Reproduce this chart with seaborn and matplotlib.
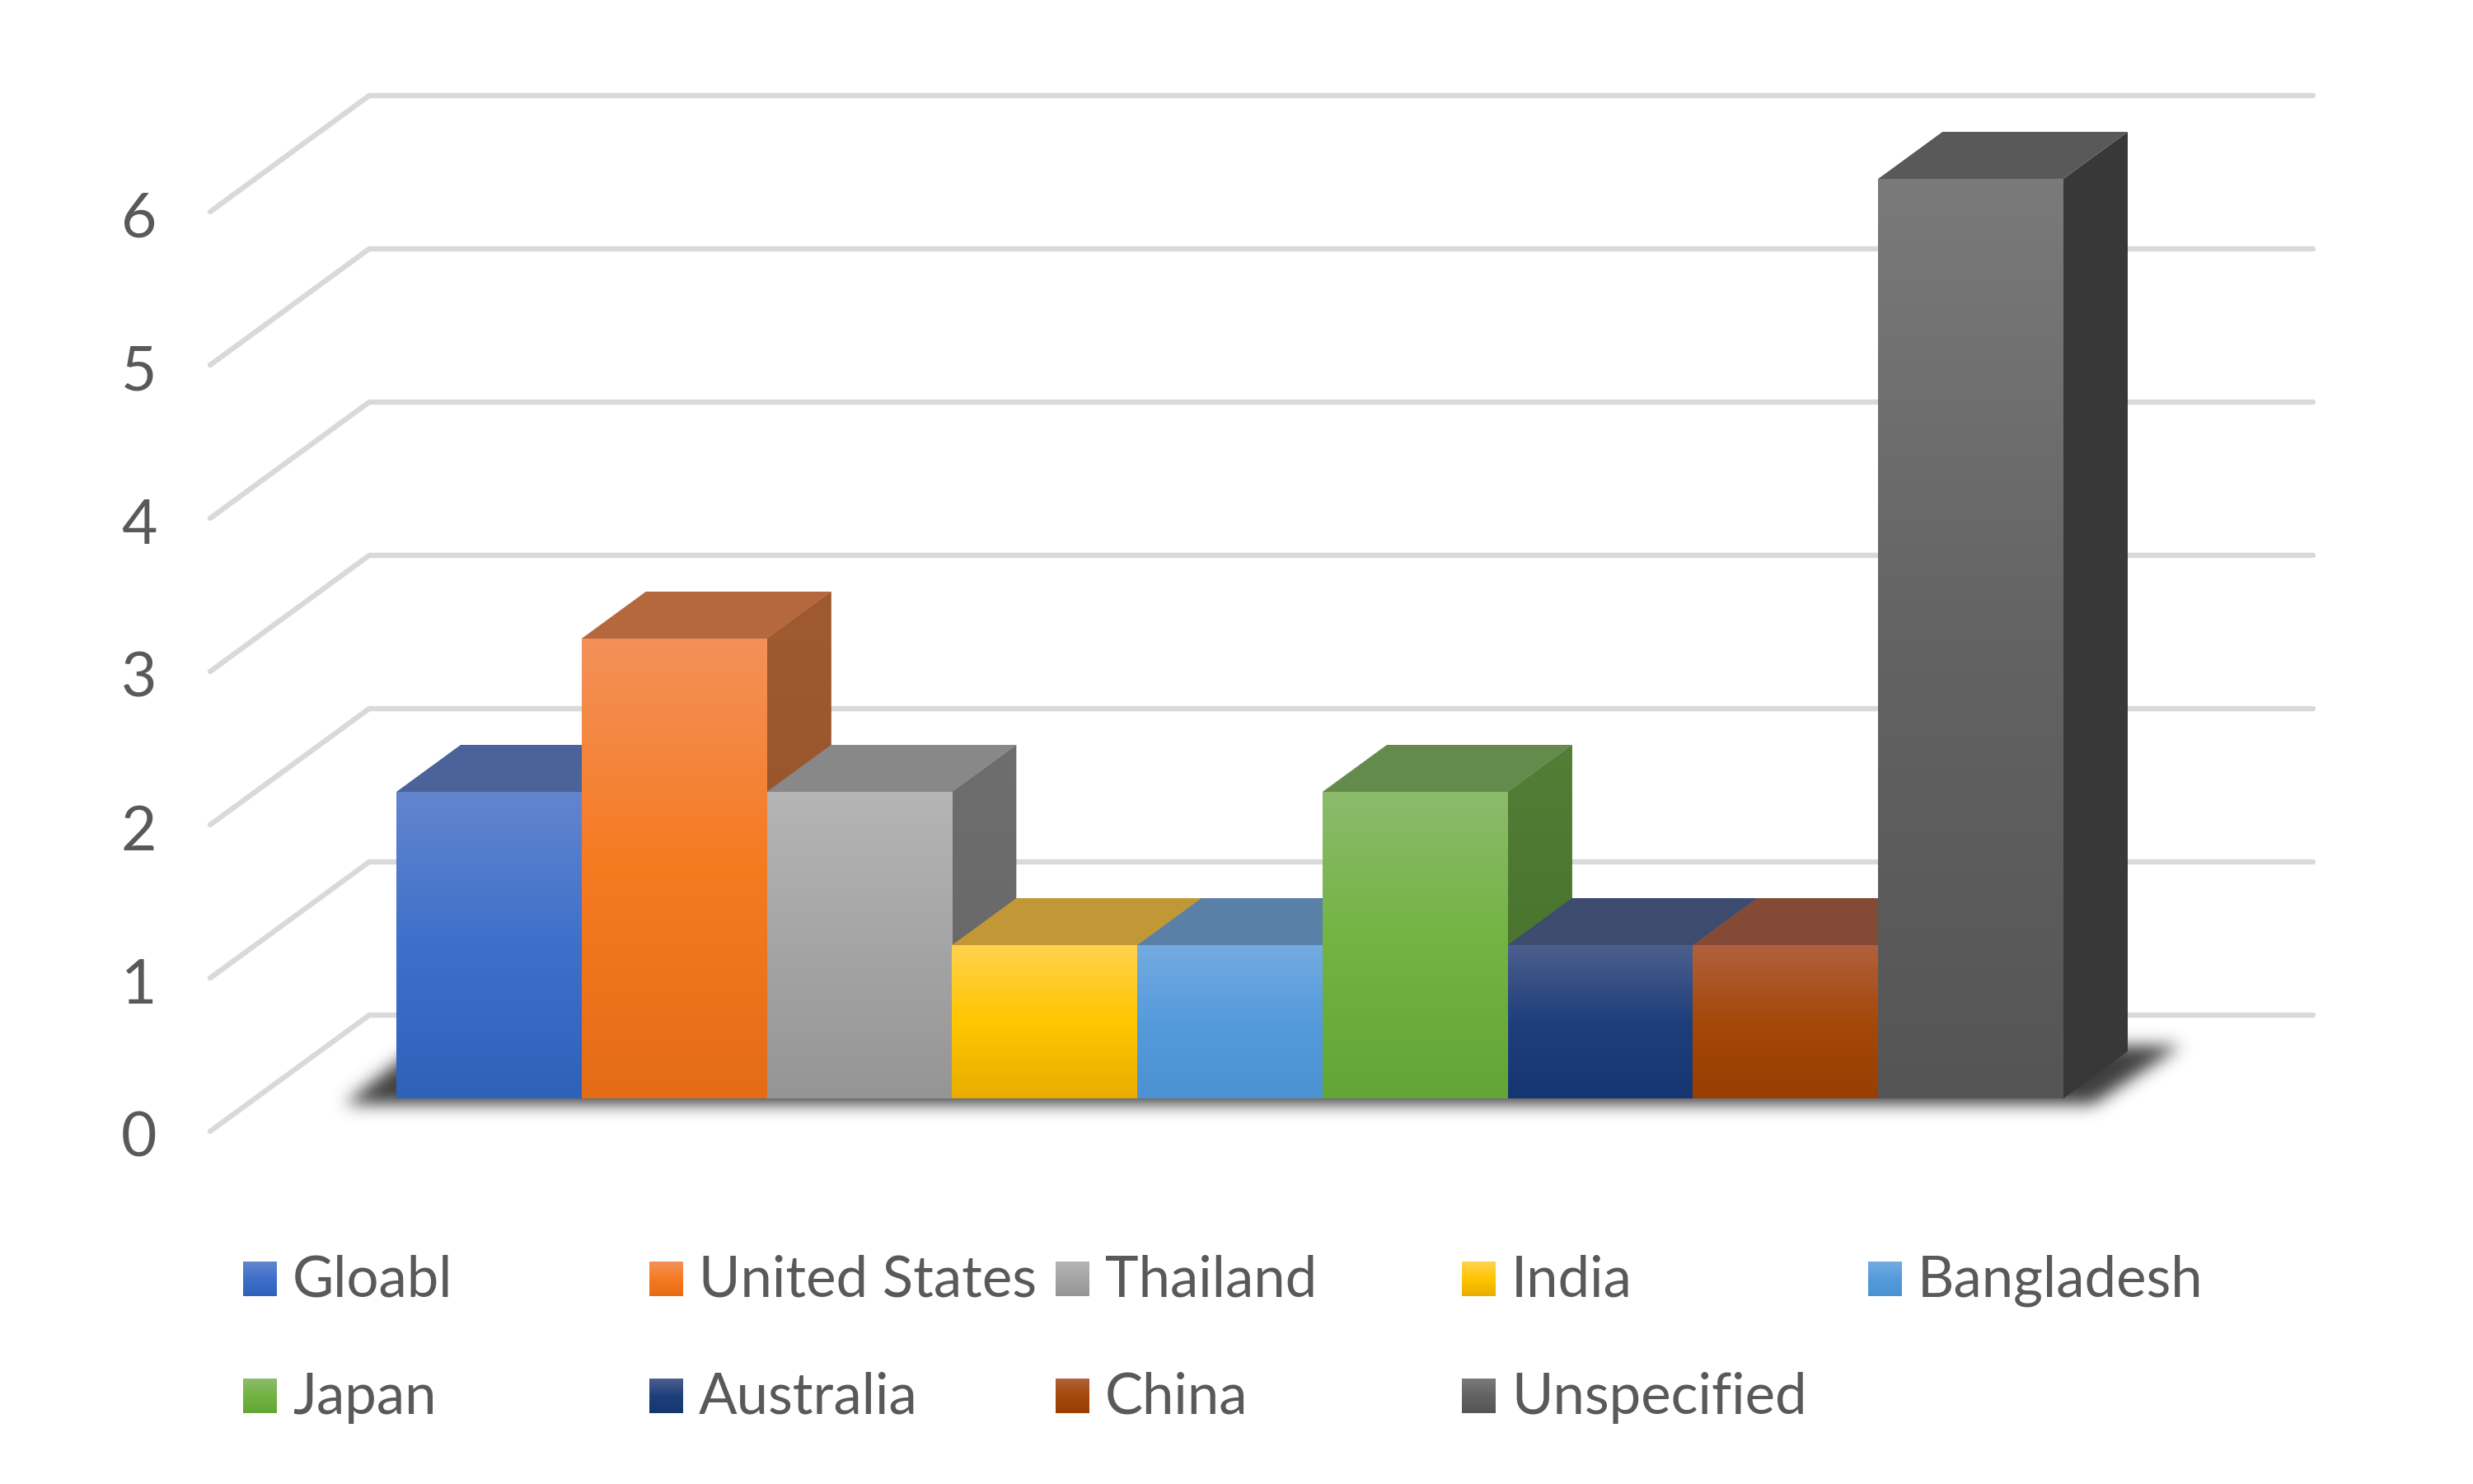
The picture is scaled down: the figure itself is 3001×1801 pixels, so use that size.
import numpy as np
import pandas as pd
import matplotlib
matplotlib.use("Agg")
import matplotlib.pyplot as plt
import seaborn as sns
from matplotlib.colors import LinearSegmentedColormap
from matplotlib.patches import Polygon

sns.set_theme(style="white")
plt.rcParams["font.family"] = ["Lato", "DejaVu Sans"]

# datos
paises = ["Gloabl", "United States", "Thailand", "India", "Bangladesh",
          "Japan", "Australia", "China", "Unspecified"]
valores = [2, 3, 2, 1, 1, 2, 1, 1, 6]
yticks = [0, 1, 2, 3, 4, 5, 6]

# colores: arriba, medio, abajo
frente = [("#6385CE", "#3E70CA", "#2E62B9"),
          ("#F3915A", "#F67A20", "#E56C17"),
          ("#B5B5B5", "#A5A5A5", "#959595"),
          ("#FFD24F", "#FFC600", "#E8AD00"),
          ("#75ABE0", "#559BDC", "#4C92D2"),
          ("#8CBB6C", "#72B342", "#63A537"),
          ("#4C5F8E", "#1F3F7C", "#153670"),
          ("#B0613D", "#A5480A", "#993D00"),
          ("#7A7A7A", "#636363", "#555555")]
tapa = ["#4A6398", "#B5683E", "#888888", "#C29736", "#5A80A8",
        "#648B4C", "#3C4B6E", "#844A35", "#595959"]
lado = [("#3F5C94", "#2A4A80"), ("#A05A30", "#8F5028"), ("#6E6E6E", "#666666"),
        ("#A88020", "#8F6C10"), ("#44719C", "#3A6690"), ("#527E36", "#456E2A"),
        ("#2A3D66", "#1A2E58"), ("#7A3F22", "#6A3410"), ("#4B4B4B", "#383838")]

W, H = 3001, 1801
x0, x1, y_base, y_seis = 481, 2504, 1333, 217
px_x = (x1 - x0) / 9
px_y = (y_base - y_seis) / 6
# profundidad de las barras y de la pared, en unidades de datos
dx = 78 / px_x
dy = 57 / px_y
pared_x, pared_y = (448 - x0) / px_x - 0.5, (y_base - 1232) / px_y
frontal_x, frontal_y = (255 - x0) / px_x - 0.5, (y_base - 1373) / px_y
fin_x = (2807 - x0) / px_x - 0.5


def relleno(ax, patch, colores, z):
    # degradado vertical recortado a la forma del patch
    cmap = LinearSegmentedColormap.from_list("g", colores)
    b = patch.get_path().transformed(patch.get_patch_transform()).get_extents()
    im = ax.imshow(np.linspace(0, 1, 256).reshape(-1, 1), cmap=cmap, aspect="auto",
                   extent=[b.x0, b.x1, b.y0, b.y1], origin="upper",
                   zorder=z, interpolation="bilinear")
    im.set_clip_path(patch)
    return im


def sombra(fig):
    xs, ys = np.arange(360, 2740), np.arange(1220, 1395)
    xx, yy = np.meshgrid(xs, ys)
    t = (1339 - yy) / 70
    m = ((t >= 0) & (t <= 1) & (xx >= 418 + 90 * t) & (xx <= 2540 + 105 * t)).astype(float)
    k = np.exp(-0.5 * (np.arange(-30, 31) / 10) ** 2)
    k = k / k.sum()
    m = np.apply_along_axis(lambda v: np.convolve(v, k, mode="same"), 0, m)
    m = np.apply_along_axis(lambda v: np.convolve(v, k, mode="same"), 1, m)
    rgba = np.zeros(m.shape + (4,))
    rgba[..., :3] = 0.2
    rgba[..., 3] = m * 0.95
    fig.figimage(rgba, xo=xs[0], yo=H - ys[-1] - 1, origin="upper", zorder=-1)


fig = plt.figure(figsize=(W / 100, H / 100), dpi=100)
sombra(fig)

ax = fig.add_axes([x0 / W, (H - y_base) / H, (x1 - x0) / W, (y_base - y_seis) / H])
ax.patch.set_alpha(0)

df = pd.DataFrame({"pais": paises, "valor": valores})
sns.barplot(data=df, x="pais", y="valor", hue="pais", palette=[c[1] for c in frente],
            width=1, saturation=1, legend=False, ax=ax)

# rejilla de la pared
for v in yticks:
    ax.plot([frontal_x, pared_x, fin_x],
            [v + frontal_y, v + pared_y, v + pared_y],
            color="#D9D9D9", lw=4.6, clip_on=False, zorder=1,
            solid_capstyle="round", solid_joinstyle="round")
    ax.text(-1.89, v + frontal_y - 0.05, str(v), ha="center", va="center",
            fontsize=54, color="#595959", clip_on=False)

# caras 3D, de izquierda a derecha para que cada barra tape a la anterior
barras = sorted(ax.patches, key=lambda p: p.get_x())
for i, (p, v) in enumerate(zip(barras, valores)):
    z = 3 + i
    xa, xb = p.get_x(), p.get_x() + p.get_width()
    p.set_zorder(z + 0.3)
    p.set_linewidth(0)
    p.set_clip_on(False)
    cara = Polygon([(xb, 0), (xb + dx, dy), (xb + dx, v + dy), (xb, v)], closed=True,
                   facecolor=lado[i][1], lw=0, zorder=z, clip_on=False)
    ax.add_patch(cara)
    relleno(ax, cara, lado[i], z + 0.1)
    top = Polygon([(xa, v), (xa + dx, v + dy), (xb + dx, v + dy), (xb, v)], closed=True,
                  facecolor=tapa[i], lw=0, zorder=z + 0.2, clip_on=False)
    ax.add_patch(top)
    relleno(ax, p, frente[i], z + 0.4)

ax.set_xlim(-0.5, 8.5)
ax.set_ylim(0, 6)
ax.axis("off")

# leyenda
ley = fig.add_axes([0, 0, 1, 1], zorder=5)
ley.patch.set_alpha(0)
for i, nombre in enumerate(paises):
    fila, col = divmod(i, 5)
    xl = 295 + col * 493
    yc = 1552 + fila * 142
    caja = plt.Rectangle((xl, yc - 21), 41, 42, facecolor=frente[i][1], lw=0)
    ley.add_patch(caja)
    relleno(ley, caja, frente[i][::-1], 2)
    ley.text(xl + 60, yc + 2, nombre, ha="left", va="center", fontsize=49.6, color="#595959")
ley.set_xlim(0, W)
ley.set_ylim(0, H)
ley.invert_yaxis()
ley.axis("off")

fig.savefig("out.png", dpi=100, facecolor="white")
